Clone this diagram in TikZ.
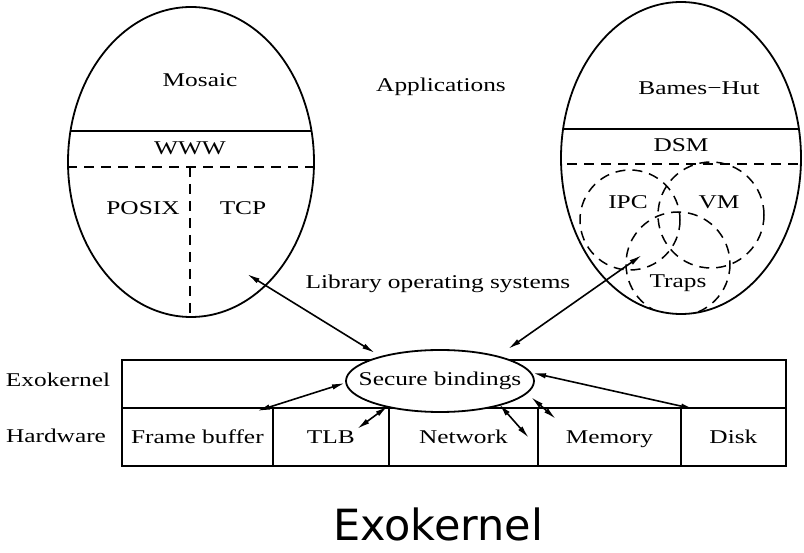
\documentclass[tikz,border=0pt]{standalone}
\usepackage{fontspec}
\setmainfont{Liberation Serif}[FakeStretch=1.3]
\newfontfamily\titlefont{DejaVu Sans}
\usetikzlibrary{shapes.geometric,arrows.meta}
\begin{document}
\begin{tikzpicture}[x=1pt,y=-1pt, line width=1.8pt,
  lbl/.style={font=\fontsize{19.5}{22}\selectfont, inner sep=0pt, text height=13pt, text depth=0pt},
  cell/.style={draw, minimum height=58pt, inner sep=0pt, anchor=north west, font=\fontsize{19.5}{22}\selectfont, text height=13pt, text depth=0pt},
  dsh/.style={dash pattern=on 10pt off 7pt},
  biarrow/.style={line width=1.6pt, {Latex[length=13pt,width=5.5pt]}-{Latex[length=13pt,width=5.5pt]}}]
\useasboundingbox (0,0) rectangle (804,553);

% left library OS
\node[draw, ellipse, minimum width=246pt, minimum height=310pt, inner sep=0pt] (lib1) at (191,162) {};
\begin{scope}
  \clip (191,162) ellipse [x radius=123, y radius=155];
  \draw (50,131) -- (330,131);
  \draw[dsh] (50,167) -- (330,167);
  \draw[dsh] (190,167) -- (190,330);
\end{scope}
\node[lbl] (mosaic) at (200,80) {Mosaic};
\node[lbl] (www) at (190,148) {WWW};
\node[lbl] (posix) at (143,208) {POSIX};
\node[lbl] (tcp) at (243,208) {TCP};

% right library OS
\node[draw, ellipse, minimum width=240pt, minimum height=312pt, inner sep=0pt] (lib2) at (681,158) {};
\begin{scope}
  \clip (681,158) ellipse [x radius=120, y radius=156];
  \draw (550,129) -- (810,129);
  \draw[dsh] (550,164) -- (810,164);
  \draw[dsh, line width=1.5pt] (630,220) circle [radius=50];
  \draw[dsh, line width=1.5pt] (711,215) circle [radius=53];
  \draw[dsh, line width=1.5pt] (678,264) circle [radius=52];
\end{scope}
\node[lbl] (barnes) at (699,88) {Bames−Hut};
\node[lbl] (dsm) at (681,145) {DSM};
\node[lbl] (ipc) at (628,202) {IPC};
\node[lbl] (vm) at (719,202) {VM};
\node[lbl] (traps) at (678,281) {Traps};

\node[lbl] (apps) at (441,85) {Applications};
\node[lbl] (libos) at (438,282) {Library operating systems};

% exokernel and hardware rows
\node[draw, minimum width=664pt, minimum height=48pt, inner sep=0pt, anchor=north west] (exo) at (121,359) {};
\node[cell, minimum width=151pt] (fb) at (121,407) {Frame buffer};
\node[cell, minimum width=116pt] (tlb) at (272,407) {TLB};
\node[cell, minimum width=149pt] (net) at (388,407) {Network};
\node[cell, minimum width=143pt] (mem) at (537,407) {Memory};
\node[cell, minimum width=105pt] (disk) at (680,407) {Disk};

\node[lbl] (exolbl) at (58,380) {Exokernel};
\node[lbl] (hwlbl) at (56,436) {Hardware};

\node[draw, ellipse, fill=white, minimum width=188pt, minimum height=62pt, inner sep=0pt,
      font=\fontsize{19.5}{22}\selectfont] (sb) at (440,381) {\makebox[0pt]{Secure bindings}};

% connector end points
\coordinate (tcpEnd) at (247,274);
\coordinate (sbA) at (375,353);
\coordinate (dsmEnd) at (642,255);
\coordinate (sbB) at (508,349);
\coordinate (fbEnd) at (257,411);
\coordinate (sbC) at (345,383);
\coordinate (tlbEnd) at (357,429);
\coordinate (sbD) at (388,406);
\coordinate (sbE) at (499,404);
\coordinate (netEnd) at (529,438);
\coordinate (sbF) at (531,397);
\coordinate (memEnd) at (556,419);
\coordinate (sbG) at (533,373);
\coordinate (diskEnd) at (694,409);

\draw[biarrow] (tcpEnd) -- (sbA);
\draw[biarrow] (dsmEnd) -- (sbB);
\draw[biarrow] (fbEnd) -- (sbC);
\draw[biarrow] (tlbEnd) -- (sbD);
\draw[biarrow] (sbE) -- (netEnd);
\draw[biarrow] (sbF) -- (memEnd);
\draw[biarrow] (sbG) -- (diskEnd);

\node[font=\titlefont\fontsize{43}{50}\selectfont, inner sep=0pt] (title) at (438,524) {Exokernel};
\end{tikzpicture}
\end{document}
